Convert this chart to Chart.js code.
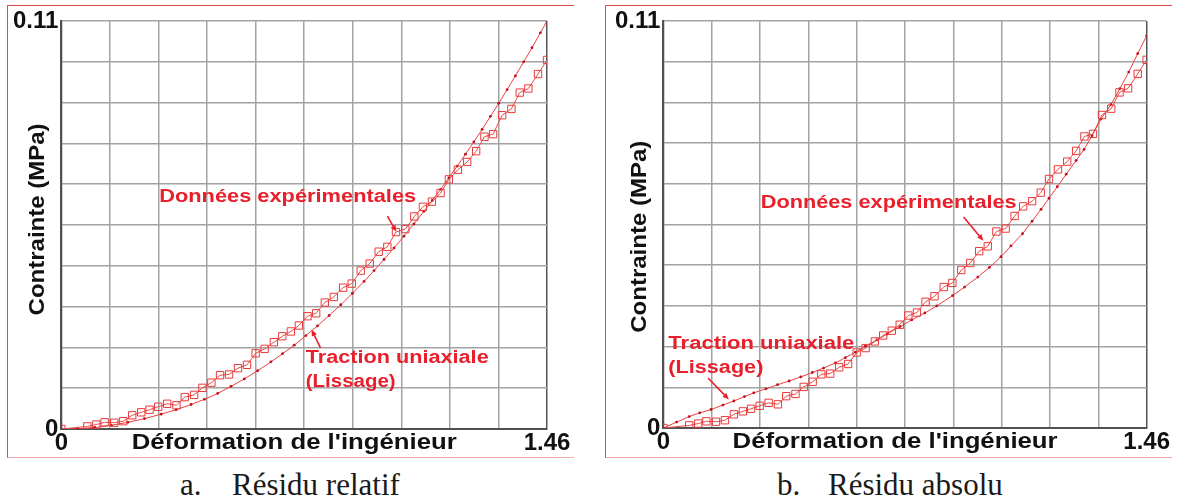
<!DOCTYPE html>
<html>
<head>
<meta charset="utf-8">
<script src="https://cdn.jsdelivr.net/npm/chart.js@4"></script>
<style>
  body { margin: 0; background: #fff; width: 1177px; height: 500px; position: relative; overflow: hidden; }
  .panel { position: absolute; top: 5px; width: 566px; height: 451px;
           border-left: 1px solid #e04a4a; border-top: 1px solid #e04a4a; border-bottom: 1px solid #f0a6a6; }
  .panel canvas { position: absolute; left: 0; top: 0; }
  .cap { position: absolute; top: 469px; line-height: 31px; font-family: 'Liberation Serif', 'DejaVu Serif', serif;
         font-size: 31px; color: #1a1a1a; white-space: pre; }
</style>
</head>
<body>
<div class="panel" style="left:7px"><canvas id="chartA" width="566" height="451"></canvas></div>
<div class="panel" style="left:605px"><canvas id="chartB" width="566" height="451"></canvas></div>
<div class="cap" style="left:180px">a.</div>
<div class="cap" style="left:232px">Résidu relatif</div>
<div class="cap" style="left:777px">b.</div>
<div class="cap" style="left:828px">Résidu absolu</div>

<script>
// experimental curve (same measurements in both panels)
var strain = [0, 0.078, 0.105, 0.130, 0.159, 0.186, 0.213, 0.240, 0.265, 0.291,
  0.318, 0.346, 0.371, 0.399, 0.424, 0.451, 0.477, 0.504, 0.531, 0.558,
  0.584, 0.611, 0.639, 0.664, 0.690, 0.714, 0.740, 0.766, 0.792, 0.819,
  0.847, 0.873, 0.900, 0.927, 0.954, 0.980, 1.006, 1.034, 1.061, 1.087,
  1.114, 1.140, 1.165, 1.192, 1.220, 1.247, 1.272, 1.298, 1.325, 1.353,
  1.378, 1.404, 1.433, 1.460];
var stress = [0, 0.0007, 0.0012, 0.0018, 0.0017, 0.0021, 0.0037, 0.0045, 0.0052, 0.0060,
  0.0068, 0.0064, 0.0086, 0.0092, 0.0111, 0.0125, 0.0145, 0.0147, 0.0164, 0.0173,
  0.0204, 0.0216, 0.0234, 0.0250, 0.0263, 0.0279, 0.0304, 0.0312, 0.0341, 0.0356,
  0.0381, 0.0392, 0.0427, 0.0446, 0.0478, 0.0491, 0.0531, 0.0539, 0.0573, 0.0599,
  0.0613, 0.0636, 0.0673, 0.0699, 0.0720, 0.0749, 0.0788, 0.0795, 0.0846, 0.0863,
  0.0907, 0.0918, 0.0957, 0.0995];

// uniaxial fit, relative residual
var fitRelX = [0, 0.05, 0.10, 0.15, 0.20, 0.25, 0.30, 0.345, 0.39, 0.43,
  0.47, 0.51, 0.55, 0.59, 0.63, 0.665, 0.70, 0.735, 0.77, 0.805,
  0.84, 0.875, 0.91, 0.94, 0.97, 1.00, 1.03, 1.06, 1.09, 1.115,
  1.14, 1.165, 1.19, 1.215, 1.24, 1.265, 1.29, 1.315, 1.34, 1.365,
  1.39, 1.415, 1.44, 1.46];
var fitRelY = [0, 0.0001, 0.0004, 0.0010, 0.0018, 0.0028, 0.0040, 0.0052, 0.0066, 0.0080,
  0.0096, 0.0115, 0.0135, 0.0157, 0.0181, 0.0203, 0.0226, 0.0252, 0.0278, 0.0306,
  0.0335, 0.0366, 0.0398, 0.0427, 0.0457, 0.0488, 0.0520, 0.0553, 0.0587, 0.0616,
  0.0646, 0.0677, 0.0709, 0.0741, 0.0774, 0.0808, 0.0843, 0.0878, 0.0915, 0.0952,
  0.0990, 0.1028, 0.1068, 0.1100];

// uniaxial fit, absolute residual
var fitAbsX = [0, 0.04, 0.078, 0.11, 0.144, 0.18, 0.213, 0.245, 0.273, 0.31,
  0.345, 0.38, 0.415, 0.45, 0.484, 0.52, 0.55, 0.58, 0.61, 0.645,
  0.676, 0.715, 0.75, 0.79, 0.826, 0.874, 0.91, 0.95, 0.985, 1.02,
  1.05, 1.085, 1.114, 1.141, 1.165, 1.19, 1.217, 1.247, 1.271, 1.295,
  1.322, 1.352, 1.379, 1.406, 1.433, 1.46];
var fitAbsY = [0, 0.0016, 0.0031, 0.0041, 0.0050, 0.0062, 0.0073, 0.0085, 0.0095, 0.0106,
  0.0117, 0.0127, 0.0138, 0.0150, 0.0162, 0.0176, 0.0190, 0.0205, 0.0221, 0.0238,
  0.0254, 0.0274, 0.0292, 0.0311, 0.0330, 0.0358, 0.0381, 0.0408, 0.0434, 0.0463,
  0.0492, 0.0525, 0.0559, 0.0591, 0.0621, 0.0652, 0.0686, 0.0723, 0.0753, 0.0790,
  0.0835, 0.0874, 0.0917, 0.0962, 0.1012, 0.1060];

// grid positions and the two labelled ends of each axis
var xGrid = [0, 0.146, 0.292, 0.438, 0.584, 0.73, 0.876, 1.022, 1.168, 1.314, 1.46];
var yGrid = [0, 0.011, 0.022, 0.033, 0.044, 0.055, 0.066, 0.077, 0.088, 0.099, 0.11];
var xTickLabels = ['0', '1.46'];
var yTickLabels = ['0', '0.11'];

var FONT = "'Liberation Sans', Arial, sans-serif";
var RED = '#e8202c';

function stretchText(ctx, text, px, py, width, rot, align) {
  ctx.save();
  ctx.translate(px, py);
  ctx.rotate(rot || 0);
  var w = ctx.measureText(text).width;
  ctx.scale(width / w, 1);
  ctx.textAlign = align || 'left';
  ctx.textBaseline = 'middle';
  ctx.fillText(text, 0, 0);
  ctx.restore();
}

function arrow(ctx, x1, y1, x2, y2) {
  var a = Math.atan2(y2 - y1, x2 - x1), h = 7;
  ctx.beginPath();
  ctx.moveTo(x1, y1);
  ctx.lineTo(x2 - Math.cos(a) * 4, y2 - Math.sin(a) * 4);
  ctx.stroke();
  ctx.beginPath();
  ctx.moveTo(x2, y2);
  ctx.lineTo(x2 - h * Math.cos(a - 0.4), y2 - h * Math.sin(a - 0.4));
  ctx.lineTo(x2 - h * Math.cos(a + 0.4), y2 - h * Math.sin(a + 0.4));
  ctx.closePath();
  ctx.fill();
}

// axis titles and the two callouts, placed in data coordinates
var panelText = {
  id: 'panelText',
  afterDatasetsDraw: function (chart, args, o) {
    var ctx = chart.ctx, area = chart.chartArea, sx = chart.scales.x, sy = chart.scales.y;
    ctx.save();
    ctx.fillStyle = '#111';
    ctx.font = 'bold 22px ' + FONT;
    stretchText(ctx, "Déformation de l'ingénieur", sx.getPixelForValue(o.xTitleAt), area.bottom + 14, 325, 0, 'center');
    stretchText(ctx, 'Contrainte (MPa)', area.left - 23, sy.getPixelForValue(o.yTitleAt), 192, -Math.PI / 2, 'center');

    ctx.fillStyle = RED;
    ctx.strokeStyle = RED;
    ctx.lineWidth = 1.6;
    ctx.font = 'bold 18px ' + FONT;
    o.notes.forEach(function (n) {
      n.lines.forEach(function (t, i) {
        stretchText(ctx, t, sx.getPixelForValue(n.x), sy.getPixelForValue(n.y[i]), n.w[i], 0, 'left');
      });
      arrow(ctx, sx.getPixelForValue(n.from[0]), sy.getPixelForValue(n.from[1]),
        sx.getPixelForValue(n.to[0]), sy.getPixelForValue(n.to[1]));
    });
    ctx.restore();
  }
};

function pts(xs, ys) {
  return xs.map(function (v, i) { return { x: v, y: ys[i] }; });
}

function makeChart(id, fitX, fitY, pad, text) {
  return new Chart(document.getElementById(id), {
    type: 'scatter',
    data: {
      datasets: [{
        label: 'Données expérimentales',
        data: pts(strain, stress),
        showLine: true,
        borderColor: '#ec4a4a',
        borderWidth: 1,
        pointStyle: 'rect',
        pointRadius: 5.2,
        pointBorderWidth: 1,
        pointBorderColor: '#e83a3a',
        pointBackgroundColor: 'rgba(255,255,255,0)'
      }, {
        label: 'Traction uniaxiale (Lissage)',
        data: pts(fitX, fitY),
        showLine: true,
        borderColor: '#ec4040',
        borderWidth: 1,
        pointStyle: 'circle',
        pointRadius: 1.4,
        pointBorderWidth: 0,
        pointBackgroundColor: '#c0101c'
      }]
    },
    options: {
      responsive: false,
      animation: false,
      layout: { padding: pad },
      plugins: { legend: { display: false }, tooltip: { enabled: false }, panelText: text },
      scales: {
        x: {
          type: 'linear', min: 0, max: 1.46,
          afterBuildTicks: function (s) { s.ticks = xGrid.map(function (v) { return { value: v }; }); },
          ticks: {
            autoSkip: false, maxRotation: 0, padding: 2, color: '#111',
            font: { family: FONT, size: 24, weight: 'bold', lineHeight: 1 },
            callback: function (v, i, t) { return i === 0 ? xTickLabels[0] : (i === t.length - 1 ? xTickLabels[1] : ''); }
          },
          grid: {
            drawTicks: false, lineWidth: 1.5,
            color: function (c) { return c.index === xGrid.length - 1 ? '#555' : '#a2a2a2'; }
          },
          border: { color: '#505050', width: 2 }
        },
        y: {
          type: 'linear', min: 0, max: 0.11,
          afterBuildTicks: function (s) { s.ticks = yGrid.map(function (v) { return { value: v }; }); },
          ticks: {
            autoSkip: false, padding: 3, color: '#111',
            font: { family: FONT, size: 24, weight: 'bold', lineHeight: 1 },
            callback: function (v, i, t) { return i === 0 ? yTickLabels[0] : (i === t.length - 1 ? yTickLabels[1] : ''); }
          },
          grid: { drawTicks: false, lineWidth: 1.5, color: '#a2a2a2' },
          border: { color: '#505050', width: 2 }
        }
      }
    },
    plugins: [panelText]
  });
}

makeChart('chartA', fitRelX, fitRelY, { left: 2, right: 27, top: 14, bottom: 0 }, {
  xTitleAt: 0.70, yTitleAt: 0.0565,
  notes: [
    { lines: ['Données expérimentales'], x: 0.294, y: [0.0625], w: [257], from: [0.980, 0.0574], to: [1.007, 0.0532] },
    { lines: ['Traction uniaxiale', '(Lissage)'], x: 0.7345, y: [0.0190, 0.01255], w: [183, 90], from: [0.779, 0.0219], to: [0.752, 0.0268] }
  ]
});

makeChart('chartB', fitAbsX, fitAbsY, { left: 6, right: 24, top: 10, bottom: 1 }, {
  xTitleAt: 0.70, yTitleAt: 0.0517,
  notes: [
    { lines: ['Données expérimentales'], x: 0.294, y: [0.0607], w: [256], from: [0.907, 0.0570], to: [0.967, 0.0506] },
    { lines: ['Traction uniaxiale', '(Lissage)'], x: 0.015, y: [0.0228, 0.0162], w: [186, 95], from: [0.135, 0.0135], to: [0.198, 0.0077] }
  ]
});
</script>
</body>
</html>
